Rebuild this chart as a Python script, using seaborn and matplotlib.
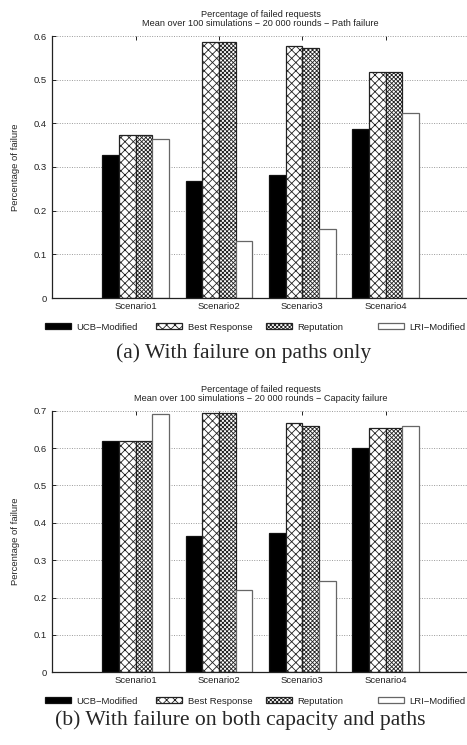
import matplotlib
matplotlib.use("Agg")
import matplotlib.pyplot as plt
import pandas as pd
import seaborn as sns

# ---- data -------------------------------------------------------------
scenarios = ["Scenario1", "Scenario2", "Scenario3", "Scenario4"]
methods = ["UCB−Modified", "Best Response", "Reputation", "LRI−Modified"]

# (a) failure on paths only
path_ucb = [0.327, 0.269, 0.281, 0.388]
path_best = [0.374, 0.586, 0.576, 0.517]
path_rep = [0.374, 0.586, 0.573, 0.517]
path_lri = [0.365, 0.130, 0.159, 0.424]

# (b) failure on both capacity and paths
cap_ucb = [0.619, 0.364, 0.372, 0.599]
cap_best = [0.619, 0.694, 0.666, 0.655]
cap_rep = [0.619, 0.694, 0.659, 0.653]
cap_lri = [0.692, 0.219, 0.243, 0.660]

path_yticks = [0, 0.1, 0.2, 0.3, 0.4, 0.5, 0.6]
path_ytick_labels = ["0", "0.1", "0.2", "0.3", "0.4", "0.5", "0.6"]
cap_yticks = [0, 0.1, 0.2, 0.3, 0.4, 0.5, 0.6, 0.7]
cap_ytick_labels = ["0", "0.1", "0.2", "0.3", "0.4", "0.5", "0.6", "0.7"]

path_title = ("Percentage of failed requests\n"
              "Mean over 100 simulations − 20 000 rounds − Path failure")
cap_title = ("Percentage of failed requests\n"
             "Mean over 100 simulations − 20 000 rounds − Capacity failure")
y_label = "Percentage of failure"
path_caption = "(a) With failure on paths only"
cap_caption = "(b) With failure on both capacity and paths"


def long_table(series):
    rows = []
    for method, values in zip(methods, series):
        for scen, v in zip(scenarios, values):
            rows.append({"scenario": scen, "method": method, "value": v})
    return pd.DataFrame(rows)


path_df = long_table([path_ucb, path_best, path_rep, path_lri])
cap_df = long_table([cap_ucb, cap_best, cap_rep, cap_lri])

# ---- style ------------------------------------------------------------
sns.set_style("white")
plt.rcParams["font.family"] = ["Liberation Sans", "DejaVu Sans"]
plt.rcParams["hatch.linewidth"] = 0.6
plt.rcParams["hatch.color"] = "#222222"

W, H = 467, 745
face = {"UCB−Modified": "black", "Best Response": "white",
        "Reputation": "white", "LRI−Modified": "white"}
hatches = ["", "xxxx", "xxxxxxxx", ""]
edges = ["#111111", "#222222", "#222222", "#666666"]
FS = 6.8

fig = plt.figure(figsize=(W / 100, H / 100), dpi=100)


def draw_panel(df, rect, yticks, ylabels, title):
    ax = fig.add_axes(rect)
    sns.barplot(data=df, x="scenario", y="value", hue="method",
                order=scenarios, hue_order=methods, palette=face,
                saturation=1, width=0.8, legend=False, ax=ax,
                linewidth=0.9, errorbar=None)
    for cont, h, ec in zip(ax.containers, hatches, edges):
        for p in cont.patches:
            p.set_hatch(h)
            p.set_edgecolor(ec)
    ax.set_xlim(-1, 4)
    ax.set_ylim(0, yticks[-1])
    ax.set_yticks(yticks)
    ax.set_yticklabels(ylabels)
    ax.set_xlabel("")
    ax.set_ylabel(y_label, fontsize=FS, labelpad=10)
    ax.yaxis.grid(True, linestyle=(0, (1, 1.5)), color="#9a9a9a",
                  linewidth=0.7)
    ax.set_axisbelow(True)
    for s in ("top", "right"):
        ax.spines[s].set_visible(False)
    for s in ("left", "bottom"):
        ax.spines[s].set_color("#222222")
        ax.spines[s].set_linewidth(0.9)
    ax.tick_params(axis="x", direction="in", top=True, bottom=True,
                   length=3, width=0.7, labelsize=FS, pad=3,
                   colors="#222222", labelcolor="#222222")
    ax.tick_params(axis="y", direction="in", left=True, right=False,
                   length=3, width=0.7, labelsize=FS, pad=4,
                   colors="#222222", labelcolor="#222222")
    ax.set_title(title, fontsize=6.6, pad=7, linespacing=1.05,
                 color="#222222")
    return ax


ax1 = draw_panel(path_df, [52.3 / W, 1 - 298 / H, 416.5 / W, 262 / H],
                 path_yticks, path_ytick_labels, path_title)
ax2 = draw_panel(cap_df, [52.3 / W, 1 - 672.3 / H, 416.5 / W, 261.6 / H],
                 cap_yticks, cap_ytick_labels, cap_title)

# ---- legends (fixed-width columns) -----------------------------------
legend_x = [45, 156, 266, 378]
for ax, ly in ((ax1, 327), (ax2, 701)):
    for cont, label, lx in zip(ax.containers, methods, legend_x):
        fig.legend([cont], [label], loc="center left",
                   bbox_to_anchor=(lx / W, 1 - ly / H), frameon=False,
                   handlelength=2.8, handleheight=0.55, handletextpad=0.55,
                   fontsize=FS, borderpad=0, borderaxespad=0,
                   labelcolor="#222222")

# ---- captions ---------------------------------------------------------
serif = ["Liberation Serif", "DejaVu Serif"]
fig.text(244 / W, 1 - 353 / H, path_caption, ha="center", va="center",
         family=serif, fontsize=15.6)
fig.text(240 / W, 1 - 720 / H, cap_caption, ha="center", va="center",
         family=serif, fontsize=15.6)

fig.savefig("out.png", dpi=100)
